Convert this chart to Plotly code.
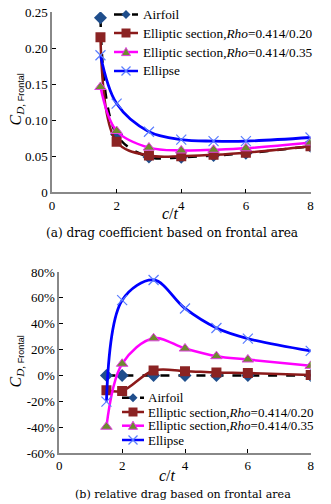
import plotly.graph_objects as go

ct = [1.5, 2, 3, 4, 5, 6, 8]

# (a) drag coefficient based on frontal area
cd_airfoil = [0.242, 0.080, 0.049, 0.0485, 0.051, 0.054, 0.064]
cd_rho020 = [0.215, 0.070, 0.051, 0.050, 0.052, 0.055, 0.064]
cd_rho035 = [0.146, 0.085, 0.062, 0.058, 0.059, 0.061, 0.069]
cd_ellipse = [0.190, 0.123, 0.084, 0.073, 0.071, 0.071, 0.076]

# (b) relative drag based on frontal area (%)
rel_airfoil = [0, 0, 0, 0, 0, 0, 0]
rel_rho020 = [-11.5, -12, 3.8, 3.3, 2.3, 1.8, 0.3]
rel_rho035 = [-39.7, 9, 28.7, 20.8, 14.9, 12.3, 7.4]
rel_ellipse = [-20.3, 58.2, 73.8, 51.8, 36.7, 28.5, 19]

names = ["Airfoil",
         "Elliptic section,<i>Rho</i>=0.414/0.20",
         "Elliptic section,<i>Rho</i>=0.414/0.35",
         "Ellipse"]

xticks_a = [0, 2, 4, 6, 8]
yticks_a = [0, 0.05, 0.10, 0.15, 0.20, 0.25]
yticklabels_a = ["0", "0.05", "0.10", "0.15", "0.20", "0.25"]
yticks_b = [-60, -40, -20, 0, 20, 40, 60, 80]
yticklabels_b = [f"{v}%" for v in yticks_b]

SERIF = "Liberation Serif, Times New Roman, serif"

line_colors = ["black", "#8B1A1A", "#FF00FF", "#0000FF"]
line_dash = ["dash", "solid", "solid", "solid"]
marker_colors = ["#1F4E8C", "#8B2323", "#6E8B2E", "#5A7DFF"]
styles = [
    dict(line=dict(color=line_colors[0], width=2.5, dash="dash", shape="spline"),
         marker=dict(symbol="diamond", size=10, color=marker_colors[0])),
    dict(line=dict(color=line_colors[1], width=2.5, shape="spline"),
         marker=dict(symbol="square", size=10, color=marker_colors[1])),
    dict(line=dict(color=line_colors[2], width=2.5, shape="spline"),
         marker=dict(symbol="triangle-up", size=10, color=marker_colors[2],
                     line=dict(color="#E040E0", width=1))),
    dict(line=dict(color=line_colors[3], width=2.8, shape="spline"),
         marker=dict(symbol="x-thin", size=10, color=marker_colors[3],
                     line=dict(color=marker_colors[3], width=1.2))),
]

# the page body has an 8px margin: place everything relative to it
OFF = 8
W, H = 331 - OFF, 504 - OFF


def px(x):
    return (x - OFF) / W


def py(y):
    return 1 - (y - OFF) / H


fig = go.Figure()

data_a = [cd_airfoil, cd_rho020, cd_rho035, cd_ellipse]
data_b = [rel_airfoil, rel_rho020, rel_rho035, rel_ellipse]

for i in range(4):
    fig.add_trace(go.Scatter(x=ct, y=data_a[i], name=names[i], mode="lines+markers",
                             xaxis="x", yaxis="y", showlegend=False, **styles[i]))
for i in range(4):
    fig.add_trace(go.Scatter(x=ct, y=data_b[i], name=names[i], mode="lines+markers",
                             xaxis="x2", yaxis="y2", showlegend=False, **styles[i]))

tickfont = dict(family=SERIF, size=13, color="black")
axcommon = dict(showline=True, linecolor="#888888", linewidth=1.5, ticks="inside",
                ticklen=4, tickcolor="black", showgrid=False, zeroline=False,
                tickfont=tickfont, fixedrange=True, automargin=False,
                ticklabeloverflow="allow")

fig.update_layout(
    width=W, height=H,
    margin=dict(l=0, r=0, t=0, b=0, autoexpand=False),
    paper_bgcolor="white", plot_bgcolor="white",
    xaxis=dict(domain=[px(52), px(310.5)], range=[0, 8], tickvals=xticks_a,
               anchor="y", **axcommon),
    yaxis=dict(domain=[py(192.3), py(12)], range=[0, 0.25], tickvals=yticks_a,
               ticktext=yticklabels_a, anchor="x", **axcommon),
    xaxis2=dict(domain=[px(59.3), px(310.7)], range=[0, 8], tickvals=xticks_a,
                anchor="y2", **axcommon),
    yaxis2=dict(domain=[py(453), py(272)], range=[-60, 80], tickvals=yticks_b,
                ticktext=yticklabels_b, anchor="x2", **axcommon),
    showlegend=False,
)


def add_legend(x0, x1, text_x, ys, fontsize):
    cx = (x0 + x1) / 2
    r = 4.5
    for i, y in enumerate(ys):
        fig.add_shape(type="line", xref="paper", yref="paper",
                      x0=px(x0), x1=px(x1), y0=py(y), y1=py(y),
                      line=dict(color=line_colors[i], width=2.5, dash=line_dash[i]))
        if i == 0:
            path = (f"M{px(cx)},{py(y - r)} L{px(cx + r)},{py(y)} "
                    f"L{px(cx)},{py(y + r)} L{px(cx - r)},{py(y)} Z")
            fig.add_shape(type="path", xref="paper", yref="paper", path=path,
                          fillcolor=marker_colors[0], line=dict(width=0))
        elif i == 1:
            fig.add_shape(type="rect", xref="paper", yref="paper",
                          x0=px(cx - r), x1=px(cx + r), y0=py(y + r), y1=py(y - r),
                          fillcolor=marker_colors[1], line=dict(width=0))
        elif i == 2:
            path = (f"M{px(cx)},{py(y - r)} L{px(cx + r)},{py(y + r * 0.8)} "
                    f"L{px(cx - r)},{py(y + r * 0.8)} Z")
            fig.add_shape(type="path", xref="paper", yref="paper", path=path,
                          fillcolor=marker_colors[2], line=dict(color="#E040E0", width=1))
        else:
            for s in (1, -1):
                fig.add_shape(type="line", xref="paper", yref="paper",
                              x0=px(cx - r), x1=px(cx + r),
                              y0=py(y - s * r), y1=py(y + s * r),
                              line=dict(color=marker_colors[3], width=1.2))
        fig.add_annotation(xref="paper", yref="paper", showarrow=False,
                           x=px(text_x), y=py(y), xanchor="left", yanchor="middle",
                           text=names[i],
                           font=dict(family=SERIF, size=fontsize, color="black"))


add_legend(114, 138, 141, [14.5, 33, 52, 71], 13.3)
add_legend(122, 144, 146, [397.7, 412, 425.7, 440], 13)

ytitle = ("<i>C</i><sub><i>D</i>, <span style='font-family:Liberation Sans;"
          "font-size:9px'>Frontal</span></sub>")
annots = [
    dict(text=ytitle, x=px(15.5), y=py(100), textangle=-90),
    dict(text=ytitle, x=px(15.5), y=py(362), textangle=-90),
    dict(text="<i>c</i>/<i>t</i>", x=px(170), y=py(213)),
    dict(text="<i>c</i>/<i>t</i>", x=px(167), y=py(475)),
]
for a in annots:
    fig.add_annotation(xref="paper", yref="paper", showarrow=False,
                       xanchor="center", yanchor="middle",
                       font=dict(family=SERIF, size=16, color="black"), **a)
fig.add_annotation(xref="paper", yref="paper", showarrow=False, x=px(172), y=py(233),
                   xanchor="center", yanchor="middle",
                   text="(a) drag coefficient based on frontal area",
                   font=dict(family="DejaVu Serif", size=12.1, color="black"))
fig.add_annotation(xref="paper", yref="paper", showarrow=False, x=px(183), y=py(494),
                   xanchor="center", yanchor="middle",
                   text="(b) relative drag based on frontal area",
                   font=dict(family="DejaVu Serif", size=11.1, color="black"))

fig.write_html("out.html")
